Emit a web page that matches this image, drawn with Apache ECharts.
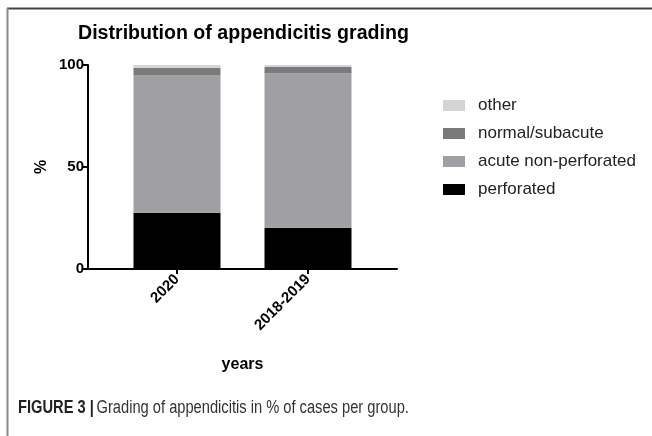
<!DOCTYPE html>
<html>
<head>
<meta charset="utf-8">
<script src="https://cdn.jsdelivr.net/npm/echarts@6/dist/echarts.min.js"></script>
<style>html,body{margin:0;padding:0;background:#fff}#c{width:652px;height:436px}</style>
</head>
<body>
<div id="c"></div>
<script>
var categories = ['2020', '2018-2019'];
var perforated = [27.6, 20.2];
var acuteNonPerforated = [67.5, 75.7];
var normalSubacute = [3.4, 3.1];
var other = [1.5, 1.0];
var yTicks = [0, 50, 100];
var legendOrder = ['other', 'normal/subacute', 'acute non-perforated', 'perforated'];

var chart = echarts.init(document.getElementById('c'), null, {renderer: 'canvas'});
var fontB = {fontFamily: 'Liberation Sans, Arial, sans-serif', fontWeight: 'bold', color: '#000'};
function bar(name, data, color) {
  return {name: name, type: 'bar', stack: 'a', data: data, barWidth: 87,
    itemStyle: {color: color}, xAxisIndex: 0, yAxisIndex: 0};
}
chart.setOption({
  animation: false,
  title: [{
    text: 'Distribution of appendicitis grading', left: 73, top: 19,
    textStyle: {fontFamily: 'Liberation Sans, Arial, sans-serif', fontWeight: 'bold', fontSize: 19.6, color: '#000'}
  }],
  legend: {
    orient: 'vertical', left: 438, top: 92, itemWidth: 22, itemHeight: 11, itemGap: 11,
    data: legendOrder,
    textStyle: {fontFamily: 'Liberation Sans, Arial, sans-serif', fontSize: 17, color: '#222', padding: [0,0,0,8]},
    icon: 'rect'
  },
  grid: [
    {left: 111.5, width: 262, top: 65, bottom: 167},
    {left: 88, width: 309, top: 65, bottom: 167}
  ],
  xAxis: [{
    type: 'category', data: categories, gridIndex: 0,
    axisLine: {show: false},
    axisTick: {show: true, alignWithLabel: true, length: 5, lineStyle: {color: '#000', width: 2}},
    axisLabel: Object.assign({rotate: 45, fontSize: 15, margin: 8}, fontB),
    name: 'years', nameLocation: 'middle', nameGap: 88,
    nameTextStyle: Object.assign({fontSize: 16}, fontB)
  }, {
    type: 'value', gridIndex: 1, min: 0, max: 1,
    axisLine: {show: true, lineStyle: {color: '#000', width: 2}},
    axisTick: {show: false}, axisLabel: {show: false}, splitLine: {show: false}
  }],
  yAxis: [{
    type: 'value', gridIndex: 0, min: yTicks[0], max: yTicks[yTicks.length - 1], interval: 50,
    offset: 23.5,
    axisLine: {show: true, lineStyle: {color: '#000', width: 2}},
    axisTick: {show: true, length: 5, lineStyle: {color: '#000', width: 2}},
    axisLabel: Object.assign({fontSize: 15, margin: 4}, fontB),
    splitLine: {show: false},
    name: '%', nameLocation: 'middle', nameGap: 38, nameRotate: 90,
    nameTextStyle: Object.assign({fontSize: 16}, fontB)
  }, {
    type: 'value', gridIndex: 1, min: 0, max: 1, show: false
  }],
  graphic: [
    {type: 'line', shape: {x1: 7, y1: 8.5, x2: 652, y2: 8.5}, style: {stroke: '#444', lineWidth: 2}, silent: true},
    {type: 'line', shape: {x1: 7.5, y1: 8, x2: 7.5, y2: 436}, style: {stroke: '#888', lineWidth: 2}, silent: true},
    {type: 'text', x: 18, y: 399, scaleX: 0.815, silent: true,
      style: {text: '{b|FIGURE 3 |} {n|Grading of appendicitis in % of cases per group.}',
        rich: {
          b: {fontFamily: 'Liberation Sans, Arial, sans-serif', fontWeight: 'bold', fontSize: 18, fill: '#222'},
          n: {fontFamily: 'Liberation Sans, Arial, sans-serif', fontWeight: 'normal', fontSize: 18, fill: '#333'}
        }}}
  ],
  series: [
    bar('perforated', perforated, '#000000'),
    bar('acute non-perforated', acuteNonPerforated, '#a09fa4'),
    bar('normal/subacute', normalSubacute, '#7a7a7a'),
    bar('other', other, '#d4d4d4')
  ]
});
</script>
</body>
</html>
